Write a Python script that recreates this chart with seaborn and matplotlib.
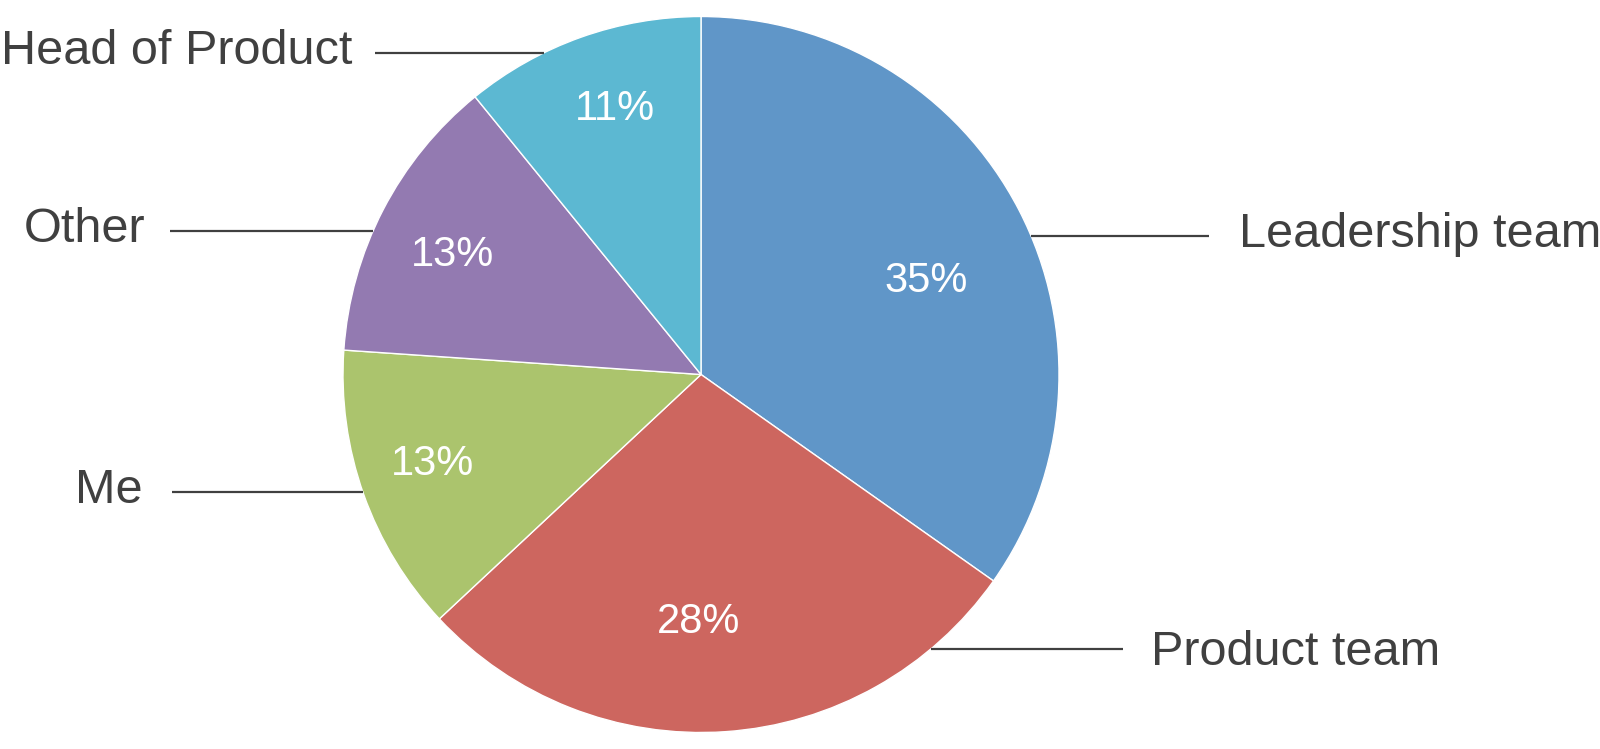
import numpy as np
import matplotlib
matplotlib.use("Agg")
import matplotlib.pyplot as plt
import seaborn as sns

# Data: survey answers (counts), clockwise from 12 o'clock
categories = ["Leadership team", "Product team", "Me", "Other", "Head of Product"]
counts = [16, 13, 6, 6, 5]

colors = ["#6096C8", "#CD665F", "#ABC46D", "#937AB1", "#5CB8D2"]
text_color = "#404040"

sns.set_theme(style="white")
plt.rcParams["font.family"] = ["Liberation Sans", "DejaVu Sans"]

W, H = 1600, 749
fig = plt.figure(figsize=(W / 100, H / 100), dpi=100)
ax = fig.add_axes([0, 0, 1, 1])

cx, cy, r = 701, 374.5, 358

wedges, _, autotexts = ax.pie(
    counts, colors=colors, startangle=90, counterclock=False,
    center=(cx, cy), radius=r, autopct="%.0f%%",
    wedgeprops=dict(edgecolor="white", linewidth=1),
    textprops=dict(color="white", fontsize=30), frame=True,
)
ax.set_xlim(0, W)
ax.set_ylim(0, H)
ax.set_aspect("equal")
ax.axis("off")

# % label placement: (angle in degrees, fraction of radius)
pct_pos = [(22.5, 0.68), (-90.5, 0.69), (198.5, 0.79), (154.4, 0.77), (108, 0.78)]
for t, (a, f) in zip(autotexts, pct_pos):
    ang = np.deg2rad(a)
    t.set_position((cx + f * r * np.cos(ang), cy + f * r * np.sin(ang)))
    t.set_ha("center")
    t.set_va("center")

# outside labels: (line y from top, text baseline from top, line outer x, text x, side)
label_layout = {
    "Leadership team": (236, 247, 1209, 1239, "right"),
    "Product team": (649, 665, 1123, 1151, "right"),
    "Me": (492, 503, 172, 143, "left"),
    "Other": (231, 242, 170, 145, "left"),
    "Head of Product": (53, 64, 375, 352, "left"),
}

for name in categories:
    ly, by, lx, tx, side = label_layout[name]
    y = H - ly
    dx = np.sqrt(max(r ** 2 - (y - cy) ** 2, 0))
    edge_x = cx + dx if side == "right" else cx - dx
    ax.plot([edge_x, lx], [y, y], color=text_color, lw=1.6, solid_capstyle="butt")
    ax.text(tx, H - by, name, fontsize=35, color=text_color,
            ha="left" if side == "right" else "right", va="baseline")

fig.savefig("out.png", dpi=100)
